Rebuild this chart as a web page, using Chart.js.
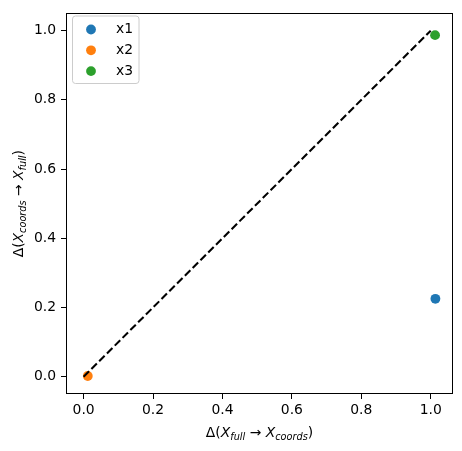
<!DOCTYPE html>
<html><head><meta charset="utf-8">
<script src="https://cdn.jsdelivr.net/npm/chart.js@4"></script>
<style>html,body{margin:0;padding:0;background:#fff}#w{width:462px;height:451px}</style>
</head><body><div id="w"><canvas id="c" width="462" height="451"></canvas></div>
<script>
const seriesNames = ['x1', 'x2', 'x3'];
const seriesColors = ['#1f77b4', '#ff7f0e', '#2ca02c'];
const seriesX = [1.0135, 0.012, 1.0125];
const seriesY = [0.225, 0.002, 0.987];
const diagX = [0, 1];
const diagY = [0, 1];
const xTicks = [0.0, 0.2, 0.4, 0.6, 0.8, 1.0];
const yTicks = [0.0, 0.2, 0.4, 0.6, 0.8, 1.0];
const xRange = [-0.0507, 1.0642];
const yRange = [-0.05, 1.05];
// axis titles as [text, kind] parts: n = upright, i = italic, s = italic subscript
const xTitle = [['Δ(', 'n'], ['X', 'i'], ['full', 's'], [' → ', 'n'], ['X', 'i'], ['coords', 's'], [')', 'n']];
const yTitle = [['Δ(', 'n'], ['X', 'i'], ['coords', 's'], [' → ', 'n'], ['X', 'i'], ['full', 's'], [')', 'n']];

const FONT = 'DejaVu Sans';
const FS = 13.9;
const PR = 4.9;

const datasets = [{
  type: 'line',
  label: 'diag',
  data: diagX.map((x, i) => ({x: x, y: diagY[i]})),
  borderColor: '#000',
  borderWidth: 2.08,
  borderDash: [7.7, 3.3],
  pointRadius: 0,
  fill: false
}];
seriesNames.forEach((n, i) => datasets.push({
  type: 'scatter',
  label: n,
  data: [{x: seriesX[i], y: seriesY[i]}],
  backgroundColor: seriesColors[i],
  borderColor: seriesColors[i],
  borderWidth: 0,
  pointRadius: PR
}));

function partFont(k) {
  if (k === 'n') return FS + 'px "' + FONT + '"';
  if (k === 'i') return 'oblique ' + FS + 'px "' + FONT + '"';
  return 'oblique ' + (FS * 0.7) + 'px "' + FONT + '"';
}
function drawMath(ctx, parts, cx, cy) {
  let w = 0;
  parts.forEach(p => { ctx.font = partFont(p[1]); w += ctx.measureText(p[0]).width; });
  let x = cx - w / 2;
  ctx.textBaseline = 'alphabetic';
  ctx.textAlign = 'left';
  parts.forEach(p => {
    ctx.font = partFont(p[1]);
    ctx.fillText(p[0], x, cy + (p[1] === 's' ? 3 : 0));
    x += ctx.measureText(p[0]).width;
  });
}

const decor = {
  id: 'decor',
  afterDraw(chart) {
    const ctx = chart.ctx, a = chart.chartArea;
    ctx.save();
    ctx.strokeStyle = '#000';
    ctx.lineWidth = 1;
    ctx.strokeRect(Math.round(a.left) + 0.5, Math.round(a.top) + 0.5, Math.round(a.right - a.left) - 1, Math.round(a.bottom - a.top) - 1);
    ctx.fillStyle = '#000';
    drawMath(ctx, xTitle, (a.left + a.right) / 2, 437);
    ctx.save();
    ctx.translate(23, (a.top + a.bottom) / 2);
    ctx.rotate(-Math.PI / 2);
    drawMath(ctx, yTitle, 0, 0);
    ctx.restore();
    // legend
    const lx = 72.5, ly = 16, lw = 66.5, lh = 67.5, r = 3;
    ctx.beginPath();
    ctx.moveTo(lx + r, ly);
    ctx.arcTo(lx + lw, ly, lx + lw, ly + lh, r);
    ctx.arcTo(lx + lw, ly + lh, lx, ly + lh, r);
    ctx.arcTo(lx, ly + lh, lx, ly, r);
    ctx.arcTo(lx, ly, lx + lw, ly, r);
    ctx.closePath();
    ctx.fillStyle = 'rgba(255,255,255,0.8)';
    ctx.fill();
    ctx.strokeStyle = '#cccccc';
    ctx.stroke();
    chart.data.datasets.forEach(ds => {
      if (ds.type !== 'scatter') return;
      const i = seriesNames.indexOf(ds.label);
      const y = 29.5 + i * 20.8;
      ctx.beginPath();
      ctx.arc(91, y, PR, 0, Math.PI * 2);
      ctx.fillStyle = ds.backgroundColor;
      ctx.fill();
      ctx.fillStyle = '#000';
      ctx.font = FS + 'px "' + FONT + '"';
      ctx.textAlign = 'left';
      ctx.textBaseline = 'middle';
      ctx.fillText(ds.label, 116, y);
    });
    ctx.restore();
  }
};

new Chart(document.getElementById('c'), {
  data: {datasets: datasets},
  plugins: [decor],
  options: {
    responsive: false,
    animation: false,
    devicePixelRatio: 1,
    layout: {padding: {left: 0, top: 9, right: 9, bottom: 0}},
    plugins: {legend: {display: false}, tooltip: {enabled: false}},
    scales: {
      x: {
        type: 'linear', min: xRange[0], max: xRange[1],
        afterBuildTicks: s => { s.ticks = xTicks.map(v => ({value: v})); },
        afterFit: s => { s.height = 57; },
        grid: {drawOnChartArea: false, tickLength: 5, tickColor: '#000', tickWidth: 1},
        border: {display: false},
        ticks: {color: '#000', font: {family: FONT, size: FS}, padding: 3, maxRotation: 0,
          callback: v => v.toFixed(1)}
      },
      y: {
        type: 'linear', min: yRange[0], max: yRange[1],
        afterBuildTicks: s => { s.ticks = yTicks.map(v => ({value: v})); },
        afterFit: s => { s.width = 66; },
        grid: {drawOnChartArea: false, tickLength: 5, tickColor: '#000', tickWidth: 1},
        border: {display: false},
        ticks: {color: '#000', font: {family: FONT, size: FS}, padding: 5,
          callback: v => v.toFixed(1)}
      }
    }
  }
});
</script></body></html>
